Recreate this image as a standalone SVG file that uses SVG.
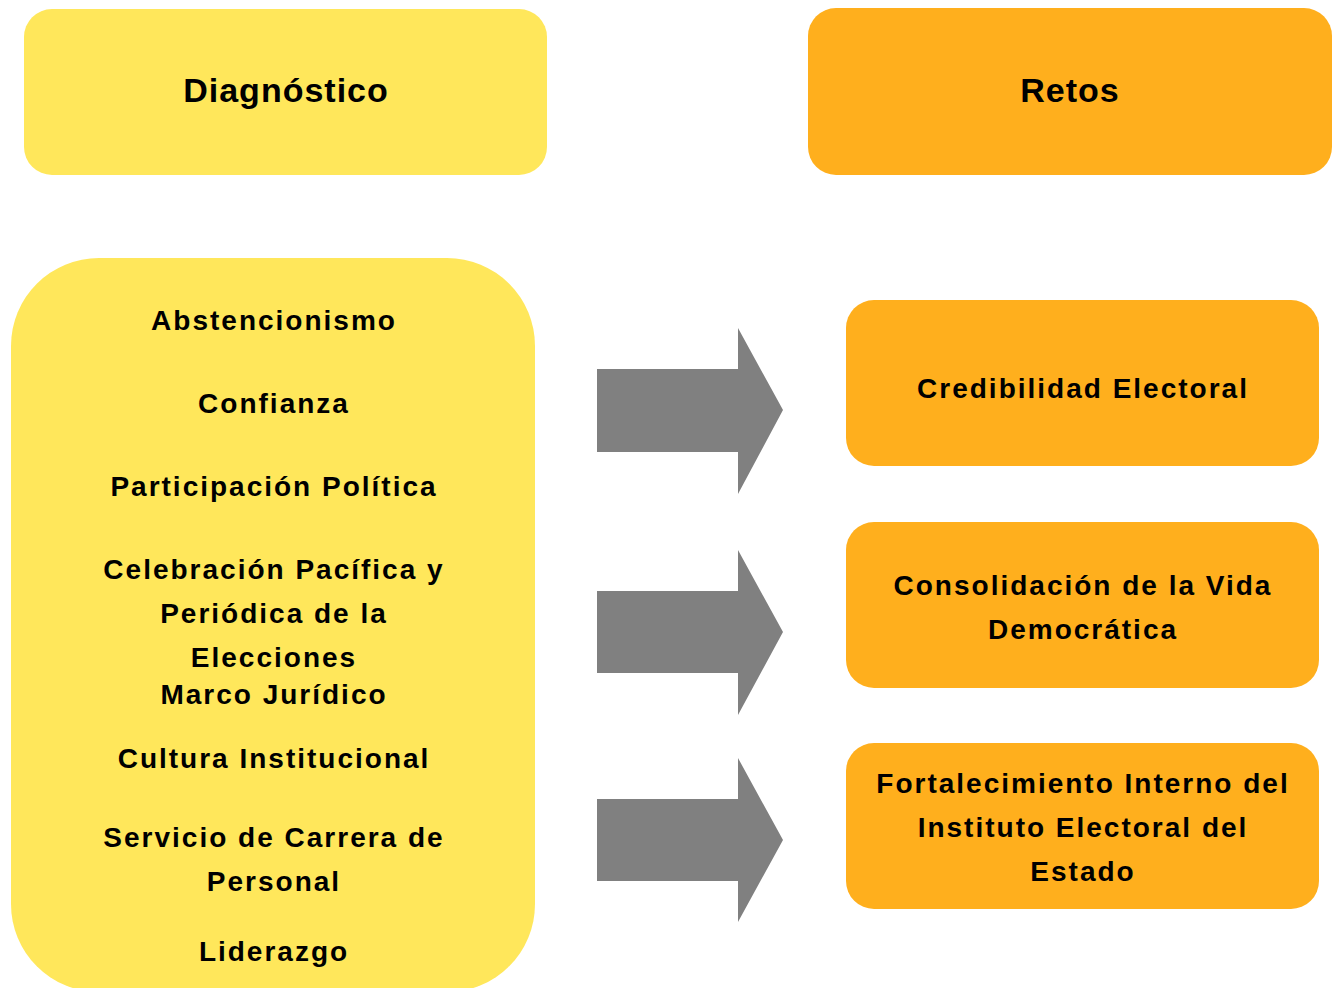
<svg xmlns="http://www.w3.org/2000/svg" width="1333" height="988" viewBox="0 0 1333 988">
<style>
.y{fill:#FFE75B}
.o{fill:#FFAF1D}
.a{fill:#808080}
text{font-family:"Comic Sans MS","Liberation Sans",sans-serif;font-weight:bold;fill:#000;text-anchor:middle}
.h{font-size:34px;letter-spacing:1px}
.t{font-size:28px;letter-spacing:2px}
</style>
<rect width="1333" height="988" fill="#fff"/>
<g id="diagnostico">
<rect class="y" x="24" y="9" width="523" height="166" rx="28"/>
<text class="h" x="286" y="102">Diagnóstico</text>
</g>
<g id="retos">
<rect class="o" x="808" y="8" width="524" height="167" rx="28"/>
<text class="h" x="1070" y="102">Retos</text>
</g>
<g id="lista">
<rect class="y" x="11" y="258" width="524" height="734" rx="88"/>
<text class="t" x="274" y="330">Abstencionismo</text>
<text class="t" x="274" y="413">Confianza</text>
<text class="t" x="274" y="496">Participación Política</text>
<text class="t" x="274" y="579">Celebración Pacífica y</text>
<text class="t" x="274" y="623">Periódica de la</text>
<text class="t" x="274" y="667">Elecciones</text>
<text class="t" x="274" y="704">Marco Jurídico</text>
<text class="t" x="274" y="768">Cultura Institucional</text>
<text class="t" x="274" y="847">Servicio de Carrera de</text>
<text class="t" x="274" y="891">Personal</text>
<text class="t" x="274" y="961">Liderazgo</text>
</g>
<g id="connectors">
<polygon class="a" points="597,369 738,369 738,328 783,410 738,494 738,452 597,452"/>
<polygon class="a" points="597,591 738,591 738,550 783,632 738,715 738,673 597,673"/>
<polygon class="a" points="597,799 738,799 738,758 783,840 738,922 738,881 597,881"/>
</g>
<g id="credibilidad">
<rect class="o" x="846" y="300" width="473" height="166" rx="28"/>
<text class="t" x="1083" y="398">Credibilidad Electoral</text>
</g>
<g id="consolidacion">
<rect class="o" x="846" y="522" width="473" height="166" rx="28"/>
<text class="t" x="1083" y="595">Consolidación de la Vida</text>
<text class="t" x="1083" y="639">Democrática</text>
</g>
<g id="fortalecimiento">
<rect class="o" x="846" y="743" width="473" height="166" rx="28"/>
<text class="t" x="1083" y="793">Fortalecimiento Interno del</text>
<text class="t" x="1083" y="837">Instituto Electoral del</text>
<text class="t" x="1083" y="881">Estado</text>
</g>
</svg>
